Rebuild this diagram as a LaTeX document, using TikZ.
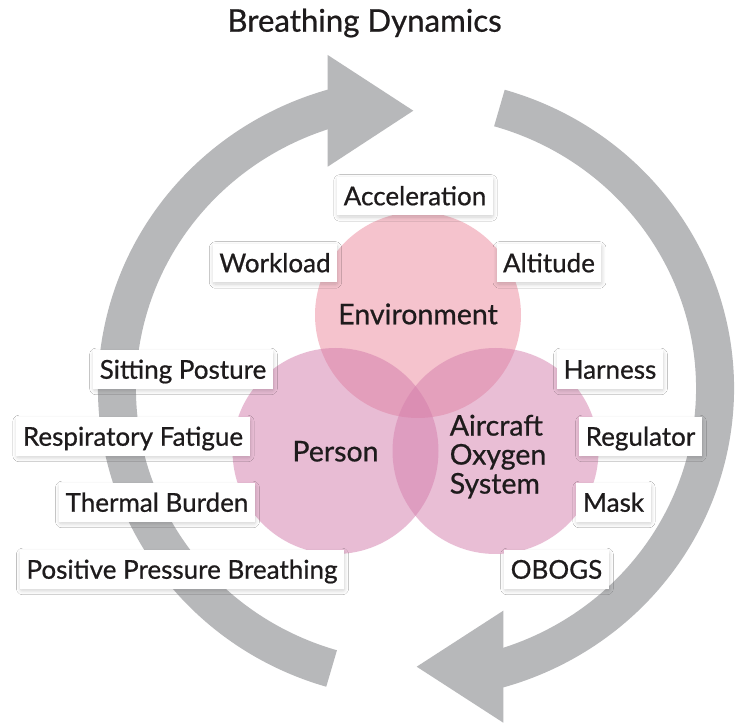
\documentclass[tikz,border=0pt]{standalone}
\usepackage{fontspec}
\setmainfont{Lato}[FakeBold=0.7]
\usetikzlibrary{shadows.blur}
\definecolor{arrowgray}{RGB}{183,184,186}
\definecolor{envpink}{RGB}{237,137,157}
\definecolor{perpink}{RGB}{211,123,171}
\definecolor{airpink}{RGB}{213,127,173}
\definecolor{txt}{RGB}{30,27,28}
\tikzset{
  lbl/.style={fill=white, text=txt, font=\fontsize{26}{30}\selectfont,
    inner xsep=6.5pt, inner ysep=10pt, text height=18.5pt, text depth=0pt,
    blur shadow={shadow xshift=0.5pt, shadow yshift=-2pt, shadow blur radius=4pt, shadow blur extra rounding=2pt, shadow opacity=18, shadow blur steps=10}},
  venn/.style={circle, minimum size=206pt, inner sep=0pt, fill opacity=0.5, text opacity=1},
  circtext/.style={text=txt, font=\fontsize{28.5}{29}\selectfont},
  shaft/.style={draw=arrowgray, line width=38pt},
  head/.style={fill=arrowgray}
}
\begin{document}
\begin{tikzpicture}[x=1pt,y=1pt]
\fill[white] (0,0) rectangle (740,723);
\useasboundingbox (0,0) rectangle (740,723);
% title
\node[circtext, font=\fontsize{31.2}{34}\selectfont, anchor=base] (title) at (364.5,691.3) {Breathing Dynamics};
% cycle arrows
\coordinate (c) at (416,334.6);
\draw[shaft] ([shift={(c)}]253.6:299pt and 292pt) arc[start angle=253.6, end angle=105.5, x radius=299pt, y radius=292pt];
\coordinate (lhA) at (327.7,668);
\coordinate (lhT) at (413.3,612.3);
\coordinate (lhB) at (327.7,556.3);
\fill[head] (lhA) -- (lhT) -- (lhB) -- cycle;
\draw[shaft] ([shift={(c)}]73.8:299pt and 292pt) arc[start angle=73.8, end angle=-74.1, x radius=299pt, y radius=292pt];
\coordinate (rhA) at (503.3,112.3);
\coordinate (rhT) at (416.7,56.3);
\coordinate (rhB) at (503.3,0.3);
\fill[head] (rhA) -- (rhT) -- (rhB) -- cycle;
% venn circles
\node[venn, fill=envpink] (env) at (418,408) {};
\node[venn, fill=perpink] (per) at (335.5,272) {};
\node[venn, fill=airpink] (air) at (495.5,272) {};
\node[circtext] (envT) at (418,409) {Environment};
\node[circtext] (perT) at (335.5,271.7) {Person};
\node[circtext, align=left] (airT) at (498,266.4) {Aircraft\\Oxygen\\System};
% labels
\node[lbl] (acc) at (415,527) {Acceleration};
\node[lbl] (work) at (275,460) {Workload};
\node[lbl] (alt) at (549,460) {Altitude};
\node[lbl] (sit) at (183,353.5) {Sitting Posture};
\node[lbl] (resp) at (133,286.5) {Respiratory Fatigue};
\node[lbl] (therm) at (157,220.5) {Thermal Burden};
\node[lbl] (ppb) at (182,153.5) {Positive Pressure Breathing};
\node[lbl] (harn) at (610,353.5) {Harness};
\node[lbl] (reg) at (640.5,286.5) {Regulator};
\node[lbl] (mask) at (613.5,220.5) {Mask};
\node[lbl] (obogs) at (556.5,153.5) {OBOGS};
\end{tikzpicture}
\end{document}
